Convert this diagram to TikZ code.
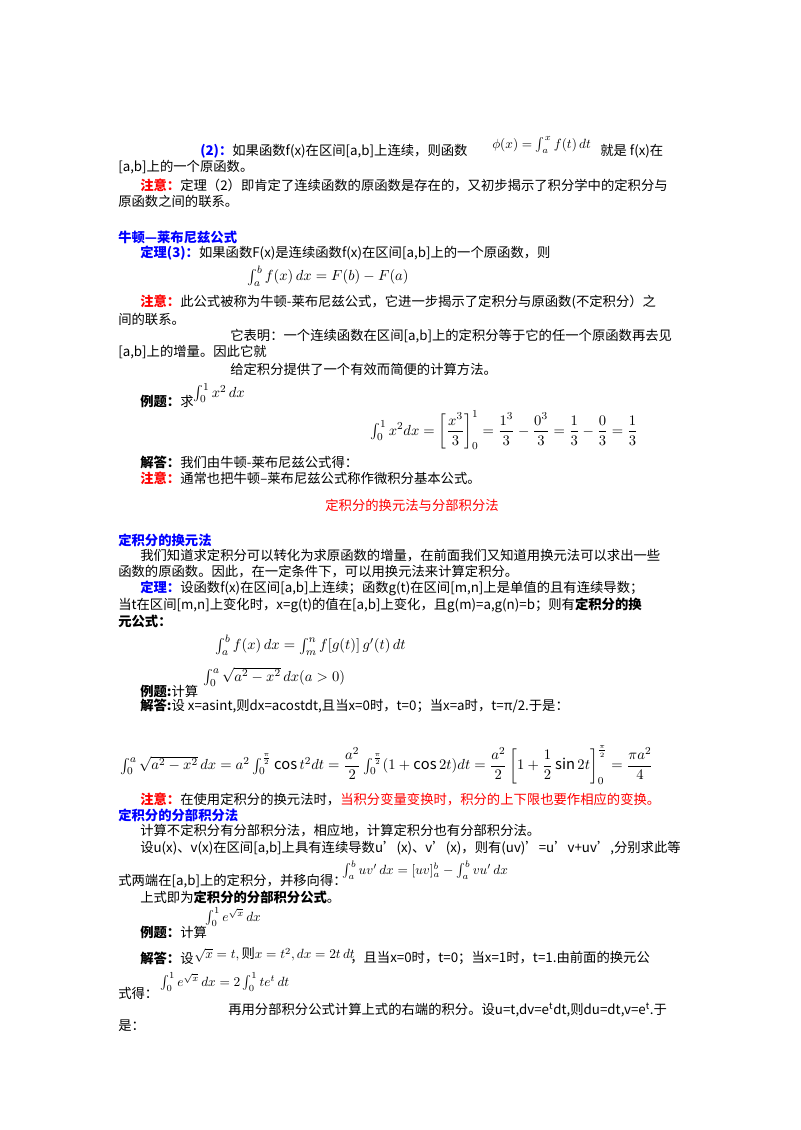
\documentclass[tikz,border=0pt]{standalone}
\usepackage{fontspec}
\setmainfont{Noto Sans CJK SC}
\usepackage{amsmath}
\definecolor{hblue}{RGB}{0,0,255}
\definecolor{hred}{RGB}{255,0,0}
\newcommand{\B}[1]{{\bfseries\color{hblue}#1}}
\newcommand{\R}[1]{{\bfseries\color{hred}#1}}
\begin{document}
\begin{tikzpicture}[x=0.75pt,y=-0.75pt,every node/.style={anchor=west,inner sep=0pt,font=\fontsize{10}{12}\selectfont},
fm/.style={font=\fontsize{11}{13}\selectfont},fs/.style={font=\fontsize{10}{12}\selectfont}]
\useasboundingbox (0,0) rectangle (800,1130);
\node (l1) at (200,151) {\B{(2)：}如果函数f(x)在区间[a,b]上连续，则函数};
\node[fs] (f1) at (492,145) {$\phi(x)=\int_a^x f(t)\,dt$};
\node (l1b) at (600,151) {就是 f(x)在};
\node (l2) at (118,167) {[a,b]上的一个原函数。};
\node (l3) at (140,185) {\R{注意：}定理（2）即肯定了连续函数的原函数是存在的，又初步揭示了积分学中的定积分与};
\node (l4) at (118,201) {原函数之间的联系。};
\node (h1) at (118,237) {\B{牛顿—莱布尼兹公式}};
\node (l5) at (140,253) {\B{定理(3)：}如果函数F(x)是连续函数f(x)在区间[a,b]上的一个原函数，则};
\node[fm] (f2) at (247,276) {$\int_a^b f(x)\,dx=F(b)-F(a)$};
\node (l6) at (140,302) {\R{注意：}此公式被称为牛顿-莱布尼兹公式，它进一步揭示了定积分与原函数(不定积分）之};
\node (l7) at (118,319) {间的联系。};
\node (l8) at (230,336) {它表明：一个连续函数在区间[a,b]上的定积分等于它的任一个原函数再去见};
\node (l9) at (118,352) {[a,b]上的增量。因此它就};
\node (l10) at (230,369) {给定积分提供了一个有效而简便的计算方法。};
\node (l11) at (140,401) {\textbf{例题：}求};
\node[fm] (f3) at (193,393) {$\int_0^1 x^2\,dx$};
\node[fm] (f4) at (370,430) {$\int_0^1 x^2dx=\left[\dfrac{x^3}{3}\right]_0^1=\dfrac{1^3}{3}-\dfrac{0^3}{3}=\dfrac{1}{3}-\dfrac{0}{3}=\dfrac{1}{3}$};
\node (l12) at (140,462) {\textbf{解答：}我们由牛顿-莱布尼兹公式得：};
\node (l13) at (140,478) {\R{注意：}通常也把牛顿--莱布尼兹公式称作微积分基本公式。};
\node[anchor=center,text=hred] (t1) at (412,505) {定积分的换元法与分部积分法};
\node (h2) at (118,540) {\B{定积分的换元法}};
\node (l14) at (140,556) {我们知道求定积分可以转化为求原函数的增量，在前面我们又知道用换元法可以求出一些};
\node (l15) at (118,572) {函数的原函数。因此，在一定条件下，可以用换元法来计算定积分。};
\node (l16) at (140,588) {\B{定理：}设函数f(x)在区间[a,b]上连续；函数g(t)在区间[m,n]上是单值的且有连续导数；};
\node (l17) at (118,605) {当t在区间[m,n]上变化时，x=g(t)的值在[a,b]上变化，且g(m)=a,g(n)=b；则有\textbf{定积分的换}};
\node (l18) at (118,621) {\textbf{元公式：}};
\node[fm] (f5) at (215,645) {$\int_a^b f(x)\,dx=\int_m^n f[g(t)]\,g'(t)\,dt$};
\node[fm] (f6) at (203,677) {$\int_0^a\sqrt{a^2-x^2}\,dx(a>0)$};
\node (l19) at (140,691) {\textbf{例题:}计算};
\node (l20) at (140,706) {\textbf{解答:}设 x=asint,则dx=acostdt,且当x=0时，t=0；当x=a时，t=π/2.于是：};
\node[fm] (f7) at (120,765) {$\int_0^a\sqrt{a^2-x^2}\,dx=a^2\int_0^{\frac{\pi}{2}}\cos t^2dt=\dfrac{a^2}{2}\int_0^{\frac{\pi}{2}}(1+\cos 2t)dt=\dfrac{a^2}{2}\left[1+\dfrac12\sin 2t\right]_0^{\frac{\pi}{2}}=\dfrac{\pi a^2}{4}$};
\node (l21) at (140,799) {\R{注意：}在使用定积分的换元法时，{\color{hred}当积分变量变换时，积分的上下限也要作相应的变换。}};
\node (h3) at (118,815) {\B{定积分的分部积分法}};
\node (l22) at (140,831) {计算不定积分有分部积分法，相应地，计算定积分也有分部积分法。};
\node (l23) at (140,848) {设u(x)、v(x)在区间[a,b]上具有连续导数u'(x)、v'(x)，则有(uv)'=u'v+uv',分别求此等};
\node[fs] (f8) at (342,870) {$\int_a^b uv'\,dx=[uv]_a^b-\int_a^b vu'\,dx$};
\node (l24) at (118,881) {式两端在[a,b]上的定积分，并移向得：};
\node (l25) at (140,897) {上式即为\textbf{定积分的分部积分公式}。};
\node[fs] (f9) at (205,917) {$\int_0^1 e^{\sqrt{x}}\,dx$};
\node (l26) at (140,932) {\textbf{例题：}计算};
\node (l27) at (140,958) {\textbf{解答：}设};
\node[fs] (f10) at (194,955) {$\sqrt{x}=t,\text{则}x=t^2,dx=2t\,dt$};
\node (l27b) at (350,958) {，且当x=0时，t=0；当x=1时，t=1.由前面的换元公};
\node[fs] (f11) at (160,982) {$\int_0^1 e^{\sqrt{x}}\,dx=2\int_0^1 te^t\,dt$};
\node (l28) at (118,993) {式得：};
\node (l29) at (228,1010) {再用分部积分公式计算上式的右端的积分。设u=t,dv=e\textsuperscript{t}dt,则du=dt,v=e\textsuperscript{t}.于};
\node (l30) at (118,1026) {是：};
\end{tikzpicture}
\end{document}
